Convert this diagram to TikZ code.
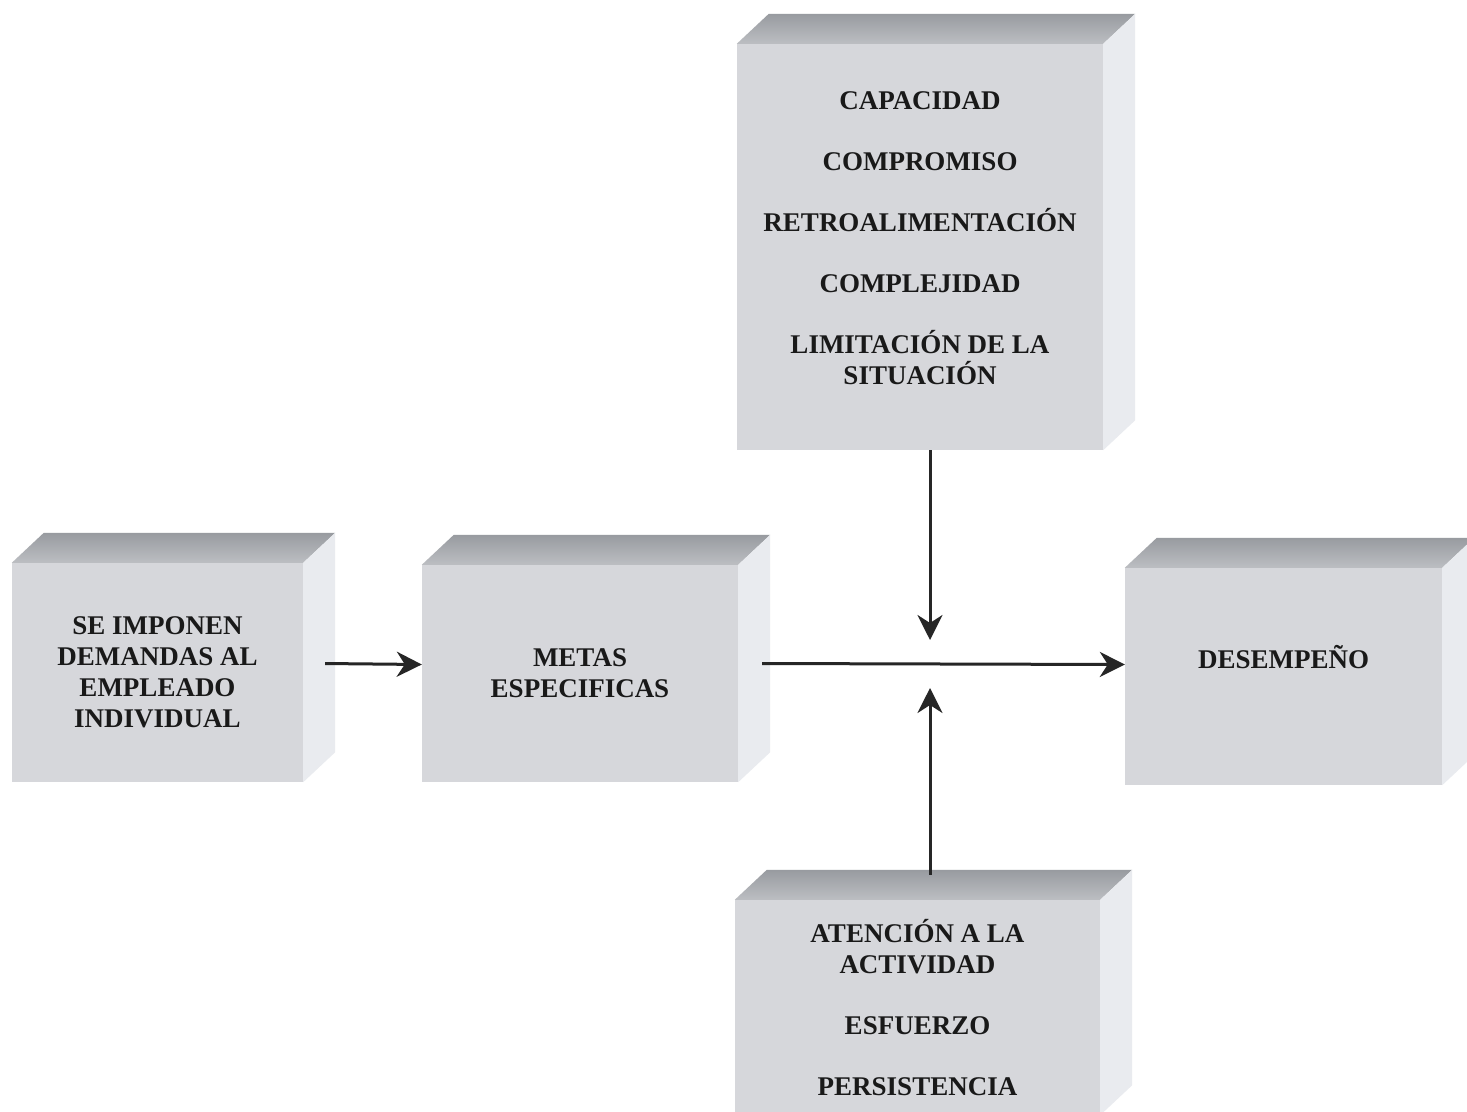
\documentclass[tikz,border=0pt]{standalone}
\usepackage{fontspec}
\setmainfont{Liberation Serif}
\usetikzlibrary{arrows.meta}

\definecolor{frente}{RGB}{214,215,219}
\definecolor{tapa}{RGB}{152,155,160}
\definecolor{tapaclara}{RGB}{188,190,194}
\definecolor{lado}{RGB}{233,235,239}

\tikzset{
    caja/.style={fill=frente, inner sep=0pt, align=center, text=black!90, font=\bfseries\fontsize{27}{31}\selectfont},
    flecha/.style={-{Stealth[length=25pt,width=25pt,inset=8pt]}, line width=3pt, black!85},
}

\begin{document}
\begin{tikzpicture}[x=1pt, y=-1pt]
    \path[use as bounding box, clip] (0,0) rectangle (1467,1111);
    \fill[white] (0,0) rectangle (1467,1111);

    \node[caja, minimum width=291pt, minimum height=219pt] at (157.5, 672.5) (imp) {SE IMPONEN\\DEMANDAS AL\\EMPLEADO\\INDIVIDUAL};
    \node[caja, minimum width=316pt, minimum height=217pt] at (580, 673.5) (metas) {METAS\\ESPECIFICAS};
    \node[caja, minimum width=317pt, minimum height=217pt] at (1283.5, 676.5) (des) {DESEMPEÑO\\[8pt]\mbox{}};
    \node[caja, minimum width=366pt, minimum height=406pt] at (920, 247) (fact) {CAPACIDAD\\[30pt]COMPROMISO\\[30pt]RETROALIMENTACIÓN\\[30pt]COMPLEJIDAD\\[30pt]LIMITACIÓN DE LA\\SITUACIÓN\\[-14pt]\mbox{}};
    \node[caja, minimum width=365pt, minimum height=215pt] at (917.5, 1007.5) (pers) {ATENCIÓN A LA\\ACTIVIDAD\\[30pt]ESFUERZO\\[30pt]PERSISTENCIA};

    % top and side faces
    \foreach \c in {imp, metas, des, fact, pers} {
        \shade[top color=tapa, bottom color=tapaclara] (\c.north west) -- ++(32,-30) -- ([shift={(32,-30)}]\c.north east) -- (\c.north east) -- cycle;
        \fill[lado] (\c.north east) -- ++(32,-30) -- ([shift={(32,-30)}]\c.south east) -- (\c.south east) -- cycle;
    }

    \coordinate (cruce) at (930, 664);

    \draw[flecha] ([shift={(22,-9)}]imp.east) -- ([yshift=9pt]metas.west);
    \draw[flecha] ([shift={(24,-10)}]metas.east) -- ([yshift=12pt]des.west);
    \draw[flecha] ([xshift=10pt]fact.south) -- ([yshift=24pt]cruce);
    \draw[flecha] ([shift={(12.5,-25)}]pers.north) -- ([yshift=-24pt]cruce);
\end{tikzpicture}
\end{document}
